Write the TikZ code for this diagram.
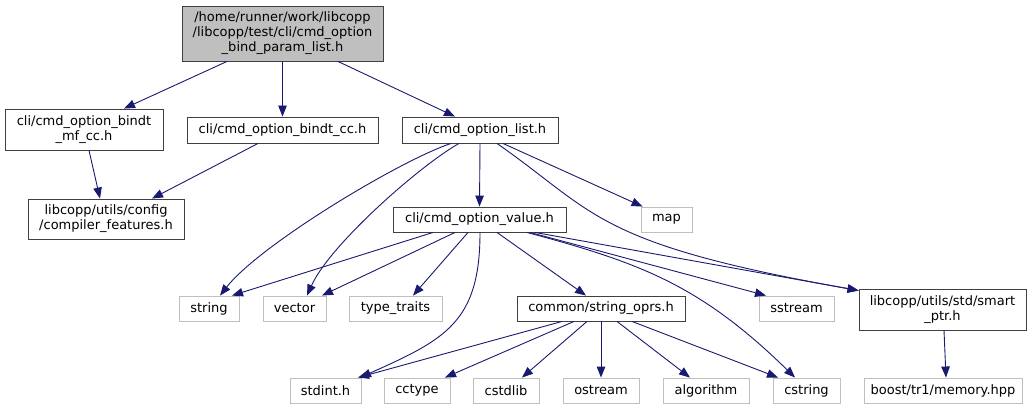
\documentclass[tikz,border=0pt]{standalone}
\usepackage{fontspec}
\setmainfont{DejaVu Sans}
\usetikzlibrary{arrows.meta}
\definecolor{edgeblue}{HTML}{191970}
\definecolor{greyc}{HTML}{BFBFBF}
\definecolor{darkb}{HTML}{404040}
\begin{document}
\begin{tikzpicture}[x=1pt,y=-1pt,
  every node/.style={font=\fontsize{13}{15}\selectfont, inner sep=0pt, align=center},
  docbox/.style={draw=darkb, line width=0.9pt, fill=white, minimum width=#1},
  extbox/.style={draw=greyc, line width=0.9pt, fill=white, minimum width=#1, minimum height=25pt},
  rootbox/.style={draw=darkb, line width=0.9pt, fill=greyc, minimum width=201pt, minimum height=55pt},
  conn/.style={draw=edgeblue, line width=0.9pt, -{Triangle[length=11pt,width=8.5pt,fill=edgeblue]}}
]
\useasboundingbox (0,0) rectangle (1035,409);
% nodes
\node[rootbox] (root) at (282.5,33.5) {/home/runner/work/libcopp\\/libcopp/test/cli/cmd\_option\\\_bind\_param\_list.h};
\node[docbox=158pt, minimum height=41pt] (mf) at (84,129.5) {cli/cmd\_option\_bindt\\\_mf\_cc.h};
\node[docbox=191pt, minimum height=26pt] (bcc) at (282.5,130) {cli/cmd\_option\_bindt\_cc.h};
\node[docbox=156pt, minimum height=26pt] (list) at (480,130) {cli/cmd\_option\_list.h};
\node[docbox=156pt, minimum height=40pt] (comp) at (106,219) {libcopp/utils/config\\/compiler\_features.h};
\node[docbox=173pt, minimum height=25pt] (value) at (479.5,219.5) {cli/cmd\_option\_value.h};
\node[extbox=51pt] (map) at (666.5,219.5) {map};
\node[extbox=60pt] (string) at (209,308.5) {string};
\node[extbox=63pt] (vector) at (294.5,308.5) {vector};
\node[extbox=93pt] (traits) at (395.5,308.5) {type\_traits};
\node[docbox=168pt, minimum height=25pt] (oprs) at (601,308.5) {common/string\_oprs.h};
\node[extbox=75pt] (sstream) at (796.5,308.5) {sstream};
\node[docbox=167pt, minimum height=41pt] (smart) at (942.5,309.5) {libcopp/utils/std/smart\\\_ptr.h};
\node[extbox=71pt] (stdint) at (325.5,390.5) {stdint.h};
\node[extbox=66pt] (cctype) at (417,390.5) {cctype};
\node[extbox=66pt] (cstdlib) at (506,390.5) {cstdlib};
\node[extbox=76pt] (ostream) at (601,390.5) {ostream};
\node[extbox=86pt] (algo) at (706,390.5) {algorithm};
\node[extbox=67pt] (cstring) at (806.5,390.5) {cstring};
\node[extbox=158pt] (boost) at (943,390.5) {boost/tr1/memory.hpp};
% edges
\draw[conn] ([xshift=-55.5pt]root.south) -- ([xshift=40pt]mf.north);
\draw[conn] (root.south) -- (bcc.north);
\draw[conn] ([xshift=55.5pt]root.south) -- ([xshift=-25pt]list.north);
\draw[conn] ([xshift=5pt]mf.south) -- ([xshift=-6pt]comp.north);
\draw[conn] ([xshift=-24.5pt]bcc.south) -- ([xshift=46pt]comp.north);
\draw[conn] ([xshift=-29pt]list.south) .. controls +(-51,17) and +(40,-51) .. ([xshift=11pt]string.north);
\draw[conn] ([xshift=-21pt]list.south) .. controls +(-39,22) and +(23,-51) .. ([xshift=12.5pt]vector.north);
\draw[conn] (list.south) -- (value.north);
\draw[conn] ([xshift=23pt]list.south) -- ([xshift=2pt]map.north west);
\draw[conn] ([xshift=17pt]list.south) .. controls +(100,70) and +(-264,-47) .. ([yshift=19pt]smart.west);
\draw[conn] ([xshift=-46.5pt]value.south) -- ([xshift=23pt]string.north);
\draw[conn] ([xshift=-24.5pt]value.south) -- ([xshift=27.5pt]vector.north);
\draw[conn] ([xshift=-11.5pt]value.south) -- ([xshift=17.5pt]traits.north);
\draw[conn] ([xshift=0.5pt]value.south) .. controls +(0,90) and +(85,-38) .. ([xshift=34.5pt]stdint.north);
\draw[conn] ([xshift=17.5pt]value.south) -- ([xshift=-15pt]oprs.north);
\draw[conn] ([xshift=50.5pt]value.south) -- ([xshift=-30.5pt]sstream.north);
\draw[conn] ([xshift=47.5pt]value.south) .. controls +(112,30) and +(-95,-93) .. ([xshift=-11.5pt]cstring.north);
\draw[conn] ([xshift=55.5pt]value.south) -- ([yshift=19pt]smart.west);
\draw[conn] ([xshift=-39pt]oprs.south) -- ([xshift=32.5pt]stdint.north);
\draw[conn] ([xshift=-27pt]oprs.south) -- ([xshift=28pt]cctype.north);
\draw[conn] ([xshift=-14pt]oprs.south) -- ([xshift=16pt]cstdlib.north);
\draw[conn] (oprs.south) -- (ostream.north);
\draw[conn] ([xshift=16pt]oprs.south) -- ([xshift=-16pt]algo.north);
\draw[conn] ([xshift=31pt]oprs.south) -- ([xshift=-28.5pt]cstring.north);
\draw[conn] ([xshift=1.5pt]smart.south) -- ([xshift=3pt]boost.north);
\end{tikzpicture}
\end{document}
